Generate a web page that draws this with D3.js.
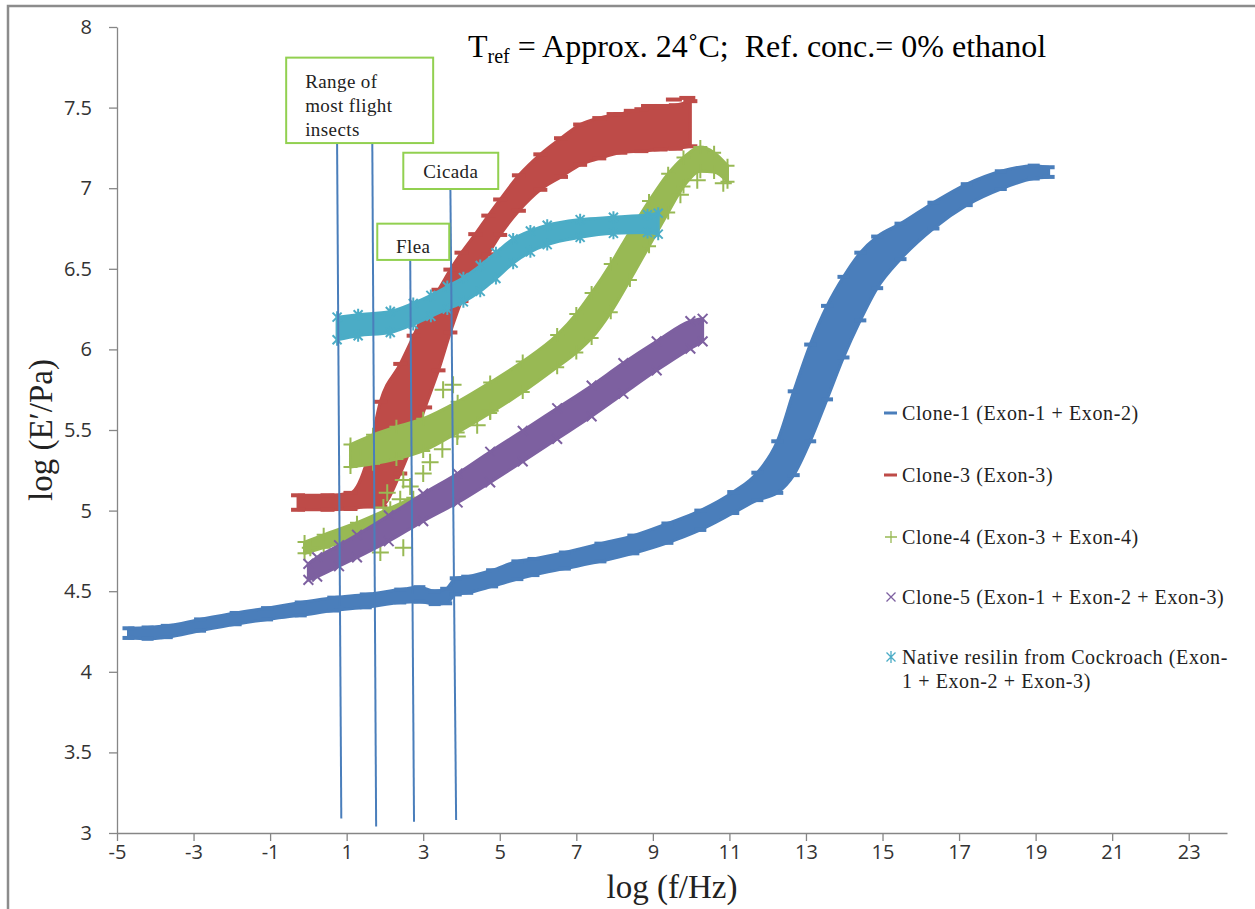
<!DOCTYPE html>
<html>
<head>
<meta charset="utf-8">
<script src="https://cdn.jsdelivr.net/npm/d3@7"></script>
<style>
  html, body { margin: 0; padding: 0; background: #fff; }
  svg { display: block; }
</style>
</head>
<body>
<svg id="chart" width="1255" height="909"></svg>
<script>
// ---- axis ticks ----
const xTicks = [-5, -3, -1, 1, 3, 5, 7, 9, 11, 13, 15, 17, 19, 21, 23];
const yTicks = [3, 3.5, 4, 4.5, 5, 5.5, 6, 6.5, 7, 7.5, 8];

// ---- master curves: x = log(f/Hz), y = log(E'/Pa), s = vertical scatter of the shifted data ----
const clone1X = [-4.7, -4.2, -3.7, -2.83, -1.9, -1.08, -0.2, 0.65, 1.5, 2.4, 2.9, 3.3, 3.6, 3.85, 4.15, 4.8, 5.46, 5.88, 6.7, 7.63, 8.49, 9.38, 10.24, 11.1, 11.73, 12.25, 12.68, 13.11, 13.55, 13.98, 14.42, 14.86, 15.47, 16.33, 17.2, 18.09, 18.95, 19.34];
const clone1Y = [4.24, 4.24, 4.25, 4.29, 4.33, 4.36, 4.39, 4.42, 4.44, 4.47, 4.48, 4.46, 4.47, 4.53, 4.54, 4.58, 4.63, 4.65, 4.69, 4.74, 4.79, 4.86, 4.94, 5.05, 5.15, 5.27, 5.48, 5.73, 5.98, 6.20, 6.39, 6.54, 6.67, 6.83, 6.96, 7.05, 7.10, 7.10];
const clone1S = [0.06, 0.07, 0.07, 0.07, 0.07, 0.07, 0.08, 0.08, 0.08, 0.08, 0.09, 0.08, 0.09, 0.10, 0.10, 0.10, 0.11, 0.10, 0.10, 0.11, 0.11, 0.12, 0.12, 0.13, 0.17, 0.32, 0.52, 0.60, 0.58, 0.50, 0.42, 0.32, 0.22, 0.16, 0.13, 0.11, 0.08, 0.06];

const clone3X = [-0.27, 0.5, 1.1, 1.54, 1.88, 2.4, 2.75, 3.05, 3.4, 3.71, 4.0, 4.36, 4.7, 5.01, 5.5, 6.06, 6.6, 7.1, 7.6, 8.15, 8.7, 9.2, 9.6, 9.98];
const clone3Y = [5.05, 5.05, 5.06, 5.17, 5.35, 5.57, 5.76, 5.94, 6.12, 6.30, 6.45, 6.58, 6.71, 6.82, 6.97, 7.10, 7.19, 7.27, 7.31, 7.34, 7.36, 7.37, 7.38, 7.40];
const clone3S = [0.09, 0.09, 0.10, 0.29, 0.65, 0.68, 0.65, 0.60, 0.50, 0.39, 0.30, 0.27, 0.24, 0.22, 0.22, 0.22, 0.24, 0.25, 0.25, 0.24, 0.26, 0.26, 0.27, 0.28];
// upper row of Clone-3 points at the highest frequencies
const clone3TopX = [8.0, 8.45, 8.9, 9.25, 9.55, 9.9];
const clone3TopY = [7.46, 7.48, 7.51, 7.51, 7.55, 7.56];

const clone4X = [1.1, 1.69, 2.3, 3.0, 3.9, 4.75, 5.6, 6.5, 7.0, 7.4, 7.9, 8.4, 8.9, 9.4, 9.8, 10.24, 10.6, 10.95];
const clone4Y = [5.34, 5.38, 5.42, 5.47, 5.58, 5.70, 5.83, 5.99, 6.10, 6.21, 6.38, 6.58, 6.78, 6.97, 7.10, 7.18, 7.16, 7.09];
const clone4S = [0.14, 0.18, 0.20, 0.20, 0.19, 0.19, 0.19, 0.20, 0.24, 0.28, 0.30, 0.30, 0.28, 0.24, 0.18, 0.15, 0.12, 0.10];
// lower branch of Clone-4 at low frequencies
const clone4LowX = [-0.1, 0.4, 1.27, 2.14, 2.74];
const clone4LowY = [4.77, 4.81, 4.88, 4.97, 5.04];
const clone4LowS = [0.07, 0.08, 0.09, 0.09, 0.08];
// isolated Clone-4 points
const clone4OutX = [0.05, 1.35, 1.61, 1.88, 1.96, 2.06, 2.40, 2.48, 2.48, 2.66, 3.0, 3.18, 3.50, 3.52, 3.78, 3.89, 4.41, 4.75, 9.72, 10.16, 10.84];
const clone4OutY = [4.77, 5.33, 5.42, 4.74, 5.02, 5.11, 5.07, 5.19, 4.77, 5.15, 5.23, 5.30, 5.38, 5.75, 5.78, 5.46, 5.53, 5.62, 6.96, 7.05, 7.03];

const clone5X = [0.0, 0.23, 0.8, 1.27, 2.1, 3.0, 3.9, 4.75, 5.6, 6.5, 7.4, 8.23, 9.1, 9.98, 10.3];
const clone5Y = [4.62, 4.65, 4.72, 4.78, 4.89, 5.02, 5.14, 5.27, 5.40, 5.54, 5.68, 5.82, 5.96, 6.09, 6.12];
const clone5S = [0.10, 0.12, 0.13, 0.14, 0.16, 0.17, 0.18, 0.19, 0.19, 0.19, 0.19, 0.19, 0.18, 0.17, 0.14];

const nativeX = [0.75, 1.3, 2.14, 2.74, 3.2, 3.63, 4.05, 4.49, 4.9, 5.35, 5.8, 6.24, 7.1, 7.97, 8.86, 9.14];
const nativeY = [6.13, 6.15, 6.17, 6.22, 6.27, 6.32, 6.37, 6.44, 6.52, 6.61, 6.67, 6.71, 6.75, 6.77, 6.78, 6.78];
const nativeS = [0.14, 0.13, 0.13, 0.13, 0.13, 0.14, 0.15, 0.16, 0.16, 0.15, 0.13, 0.12, 0.11, 0.10, 0.11, 0.13];

const seriesNames = [
  ["Clone-1 (Exon-1 + Exon-2)"],
  ["Clone-3 (Exon-3)"],
  ["Clone-4 (Exon-3 + Exon-4)"],
  ["Clone-5 (Exon-1 + Exon-2 + Exon-3)"],
  ["Native resilin from Cockroach (Exon-", "1 + Exon-2 + Exon-3)"]
];

// ---- insect frequency annotations (log f, log E') ----
const flightLow   = { x0: 0.75, y0: 7.28, x1: 0.86, y1: 3.09 };
const flightHigh  = { x0: 1.67, y0: 7.28, x1: 1.77, y1: 3.04 };
const fleaLine    = { x0: 2.66, y0: 6.57, x1: 2.76, y1: 3.07 };
const cicadaLine  = { x0: 3.71, y0: 7.00, x1: 3.86, y1: 3.08 };
const flightBox   = { x0: -0.58, x1: 3.26, y0: 7.81, y1: 7.28, lines: ["Range of", "most flight", "insects"] };
const cicadaBox   = { x0: 2.48, x1: 4.96, y0: 7.22, y1: 6.995, lines: ["Cicada"] };
const fleaBox     = { x0: 1.80, x1: 3.68, y0: 6.78, y1: 6.555, lines: ["Flea"] };

// ---- drawing ----
const colors = ["#4A7EBB", "#BE4B48", "#98B954", "#7D60A0", "#4BACC6"];
const svg = d3.select("#chart");

const x = d3.scaleLinear().domain([-5, 24]).range([117, 1227]);
const y = d3.scaleLinear().domain([3, 8]).range([833, 27]);

// outer frame
svg.append("path")
  .attr("d", "M8,915V6H1262")
  .attr("fill", "none").attr("stroke", "#8c8c8c").attr("stroke-width", 2.5);

// axes
const axisColor = "#868686";
const tickFont = "'Open Sans', 'DejaVu Sans', sans-serif";

const gx = svg.append("g").attr("transform", `translate(0,${y(3)})`)
  .call(d3.axisBottom(x).tickValues(xTicks).tickSize(8).tickSizeOuter(0).tickPadding(4).tickFormat(d => String(d)));
const gy = svg.append("g").attr("transform", `translate(${x(-5)},0)`)
  .call(d3.axisLeft(y).tickValues(yTicks).tickSize(8).tickSizeOuter(0).tickPadding(17).tickFormat(d => String(d)));
[gx, gy].forEach(g => {
  g.select(".domain").attr("stroke", axisColor).attr("stroke-width", 1.3);
  g.selectAll(".tick line").attr("stroke", axisColor).attr("stroke-width", 1.3);
  g.selectAll(".tick text").attr("fill", "#333")
    .style("font-family", tickFont).style("font-size", "20px");
});

// marker shapes
function marker(sel, kind, color, size) {
  const h = size / 2;
  if (kind === "dash") {
    sel.append("rect").attr("x", -h).attr("y", -2).attr("width", size).attr("height", 4)
      .attr("fill", color);
  } else {
    const k = h * 0.75;
    let d = "";
    if (kind === "plus") d = `M${-h},0H${h}M0,${-h}V${h}`;
    if (kind === "cross") d = `M${-k},${-k}L${k},${k}M${-k},${k}L${k},${-k}`;
    if (kind === "star") d = `M0,${-h}V${h}M${-k},${-k}L${k},${k}M${-k},${k}L${k},${-k}`;
    sel.append("path").attr("d", d).attr("stroke", color).attr("stroke-width", 2)
      .attr("fill", "none");
  }
}

const plot = svg.append("g");

function drawSeries(xs, ys, ss, color, kind, size) {
  const pts = xs.map((v, i) => ({ x: v, y: ys[i], s: ss[i] }));
  const area = d3.area()
    .x(d => x(d.x))
    .y0(d => y(d.y - d.s / 2))
    .y1(d => y(d.y + d.s / 2))
    .curve(d3.curveMonotoneX);
  plot.append("path").datum(pts).attr("d", area)
    .attr("fill", color).attr("stroke", color).attr("stroke-width", 3)
    .attr("stroke-linejoin", "round");
  const edge = pts.flatMap(d => [{ x: d.x, y: d.y + d.s / 2 }, { x: d.x, y: d.y - d.s / 2 }]);
  plot.append("g").selectAll("g").data(edge).join("g")
    .attr("transform", d => `translate(${x(d.x)},${y(d.y)})`)
    .each(function () { marker(d3.select(this), kind, color, size); });
}

function drawPoints(xs, ys, color, kind, size) {
  plot.append("g").selectAll("g").data(xs.map((v, i) => ({ x: v, y: ys[i] }))).join("g")
    .attr("transform", d => `translate(${x(d.x)},${y(d.y)})`)
    .each(function () { marker(d3.select(this), kind, color, size); });
}

drawSeries(clone1X, clone1Y, clone1S, colors[0], "dash", 12);
drawSeries(clone3X, clone3Y, clone3S, colors[1], "dash", 14);
drawPoints(clone3TopX, clone3TopY, colors[1], "dash", 16);
drawSeries(clone4LowX, clone4LowY, clone4LowS, colors[2], "plus", 14);
drawSeries(clone4X, clone4Y, clone4S, colors[2], "plus", 14);
drawPoints(clone4OutX, clone4OutY, colors[2], "plus", 17);
drawSeries(clone5X, clone5Y, clone5S, colors[3], "cross", 13);
drawSeries(nativeX, nativeY, nativeS, colors[4], "star", 12);

// annotation lines and boxes
const annot = svg.append("g");
[flightLow, flightHigh, fleaLine, cicadaLine].forEach(l => {
  annot.append("line")
    .attr("x1", x(l.x0)).attr("y1", y(l.y0)).attr("x2", x(l.x1)).attr("y2", y(l.y1))
    .attr("stroke", "#4A7EBB").attr("stroke-width", 2);
});
const boxFont = "'Liberation Serif', 'Times New Roman', serif";
[flightBox, cicadaBox, fleaBox].forEach(b => {
  const bx = x(b.x0), by = y(b.y0), bw = x(b.x1) - x(b.x0), bh = y(b.y1) - y(b.y0);
  annot.append("rect").attr("x", bx).attr("y", by).attr("width", bw).attr("height", bh)
    .attr("fill", "#fff").attr("stroke", "#92D050").attr("stroke-width", 2);
  const multi = b.lines.length > 1;
  b.lines.forEach((t, i) => {
    annot.append("text")
      .attr("x", multi ? bx + 19 : bx + bw / 2)
      .attr("y", multi ? by + 30 + i * 24 : by + bh / 2 + 7 + (b === fleaBox ? 4 : 0))
      .attr("text-anchor", multi ? "start" : "middle")
      .style("font-family", boxFont).style("font-size", "19px")
      .style("letter-spacing", "0.4px").attr("fill", "#222")
      .text(t);
  });
});

// legend
const legend = svg.append("g");
const legendRows = [413, 475, 537, 597, 657];
const legendKinds = ["dash", "dash", "plus", "cross", "star"];
seriesNames.forEach((lines, i) => {
  const g = legend.append("g").attr("transform", `translate(891,${legendRows[i]})`);
  if (legendKinds[i] === "dash") {
    g.append("rect").attr("x", -7).attr("y", -1.5).attr("width", 13).attr("height", 3).attr("fill", colors[i]);
  } else {
    marker(g, legendKinds[i], colors[i], 12);
    g.select("path").attr("stroke-width", 1.3);
  }
  lines.forEach((t, j) => {
    legend.append("text").attr("x", 902).attr("y", legendRows[i] + 7 + j * 24)
      .style("font-family", boxFont).style("font-size", "20px")
      .style("letter-spacing", "0.6px").attr("fill", "#222")
      .text(t);
  });
});

// title
const title = svg.append("text").attr("x", 468).attr("y", 57)
  .style("font-family", boxFont).style("font-size", "32px").attr("fill", "#000")
  .attr("xml:space", "preserve");
title.append("tspan").text("T");
title.append("tspan").attr("dy", 6).style("font-size", "20px").text("ref");
title.append("tspan").attr("dy", -6).text(" = Approx. 24˚C;\u00A0 Ref. conc.= 0% ethanol");

// axis titles
svg.append("text").attr("x", x(9.5)).attr("y", 898).attr("text-anchor", "middle")
  .style("font-family", boxFont).style("font-size", "33px").attr("fill", "#222")
  .text("log (f/Hz)");
svg.append("text").attr("transform", `translate(52,${y(5.5)}) rotate(-90)`)
  .attr("text-anchor", "middle")
  .style("font-family", boxFont).style("font-size", "33px").attr("fill", "#222")
  .text("log (E′/Pa)");
</script>
</body>
</html>
